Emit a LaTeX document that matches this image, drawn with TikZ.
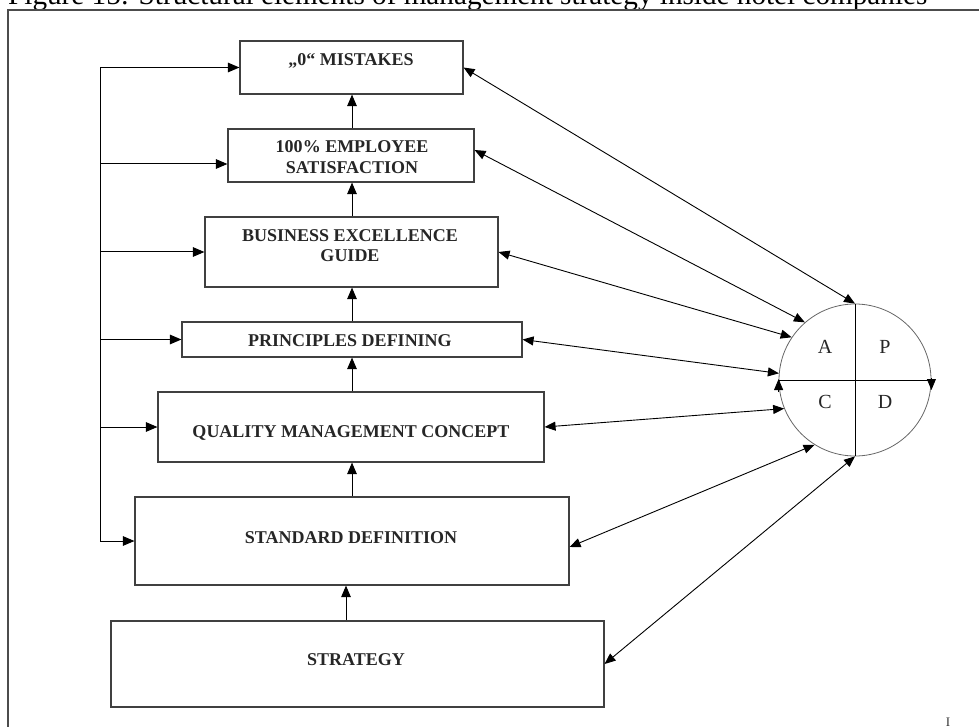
\documentclass[tikz,border=0pt]{standalone}
\usepackage{fontspec}
\setmainfont{Liberation Serif}
\usetikzlibrary{arrows.meta,calc}
\begin{document}
\begin{tikzpicture}[x=1pt,y=-1pt,
  box/.style={draw=black!75, line width=1.1pt, rectangle, inner sep=0pt},
  lbl/.style={font=\fontsize{18}{20.5}\selectfont\bfseries, align=center, inner sep=0pt, text=black!85},
  letter/.style={font=\fontsize{20}{22}\selectfont, inner sep=0pt, text=black!85},
  arr/.style={line width=1pt, -{Triangle[length=11.5pt,width=9.5pt]}},
  darr/.style={line width=0.9pt, {Triangle[length=11pt,width=9pt]}-{Triangle[length=11pt,width=9pt]}},
  tip/.style={line width=0.8pt, -{Triangle[length=11pt,width=9pt]}},
  frame/.style={draw=black!70, line width=1.3pt}
]
\useasboundingbox (0,0) rectangle (979,727);

% title (mostly cut off by the page edge, as in the reference) and frame
\node[anchor=base west, inner sep=0pt] (title) at (8,5)
  {\resizebox{919pt}{!}{Figure 15: Structural elements of management strategy inside hotel companies}};
\coordinate (fbl) at (8,740);
\coordinate (ftl) at (8,10);
\coordinate (ftr) at (990,10);
\draw[frame] (fbl) -- (ftl) -- (ftr);
\node[anchor=north, inner sep=0pt, font=\fontsize{13}{15}\selectfont, text=black!80] (pg) at (948,718) {I};

% boxes
\node[box, minimum width=223pt, minimum height=53pt] (b1) at (351.5,67.5) {};
\node[box, minimum width=246pt, minimum height=53pt] (b2) at (351,155.5) {};
\node[box, minimum width=293pt, minimum height=70pt] (b3) at (351.5,252) {};
\node[box, minimum width=340pt, minimum height=35pt] (b4) at (352,339.5) {};
\node[box, minimum width=386pt, minimum height=70pt] (b5) at (351,427) {};
\node[box, minimum width=434pt, minimum height=88pt] (b6) at (352,541) {};
\node[box, minimum width=493pt, minimum height=86pt] (b7) at (357.5,664) {};

% labels
\node[lbl, anchor=base] (t1) at (351,66) {„0“ MISTAKES};
\node[lbl] (t2) at (352,157) {100\% EMPLOYEE\\SATISFACTION};
\node[lbl] (t3) at (350,245.5) {BUSINESS EXCELLENCE\\GUIDE};
\node[lbl, anchor=base] (t4) at (350,346) {PRINCIPLES DEFINING};
\node[lbl, anchor=base] (t5) at (351,437) {QUALITY MANAGEMENT CONCEPT};
\node[lbl, anchor=base] (t6) at (351,543) {STANDARD DEFINITION};
\node[lbl, anchor=base] (t7) at (356,665) {STRATEGY};

% vertical chain
\draw[arr] ([xshift=-11.5pt]b7.north) -- ([xshift=-11.5pt]b7.north |- b6.south);
\draw[arr] (b6.north) -- (b6.north |- b5.south);
\draw[arr] ([xshift=1pt]b5.north) -- ([xshift=1pt]b5.north |- b4.south);
\draw[arr] (b4.north) -- (b4.north |- b3.south);
\draw[arr] ([xshift=0.5pt]b3.north) -- ([xshift=0.5pt]b3.north |- b2.south);
\draw[arr] ([xshift=1pt]b2.north) -- ([xshift=1pt]b2.north |- b1.south);

% left feedback bus
\coordinate (bus) at (100,0);
\draw[line width=1pt] (b1.west -| bus) -- (b6.west -| bus);
\draw[arr] (b1.west -| bus) -- (b1.west);
\draw[arr] ([yshift=-8.5pt]b2.west -| bus) -- ([yshift=-8.5pt]b2.west);
\draw[arr] (b3.west -| bus) -- (b3.west);
\draw[arr] (b4.west -| bus) -- (b4.west);
\draw[arr] (b5.west -| bus) -- (b5.west);
\draw[arr] (b6.west -| bus) -- (b6.west);

% PDCA circle
\node[draw=black!60, line width=0.8pt, circle, minimum size=152pt, inner sep=0pt] (pdca) at (855,380) {};
\draw[line width=1pt] (pdca.north) -- (pdca.south);
\draw[line width=1pt] (pdca.west) -- (pdca.east);
\draw[tip] ([yshift=2pt]pdca.east) -- ([yshift=-10pt]pdca.east);
\draw[tip] ([yshift=-12pt]pdca.west) -- ([yshift=1pt]pdca.west);
\node[letter] (la) at (825,347) {A};
\node[letter] (lp) at (885,347) {P};
\node[letter] (lc) at (825,402) {C};
\node[letter] (ld) at (885,402) {D};

% double arrows to the cycle
\draw[darr] (b1.east) -- (pdca.north);
\draw[darr] ([yshift=5.5pt]b2.east) -- (pdca.131);
\draw[darr] (b3.east) -- (pdca.146);
\draw[darr] (b4.east) -- (pdca.175);
\draw[darr] (b5.east) -- (pdca.202);
\draw[darr] ([yshift=-6pt]b6.east) -- (pdca.238);
\draw[darr] (b7.east) -- (pdca.south);
\end{tikzpicture}
\end{document}
